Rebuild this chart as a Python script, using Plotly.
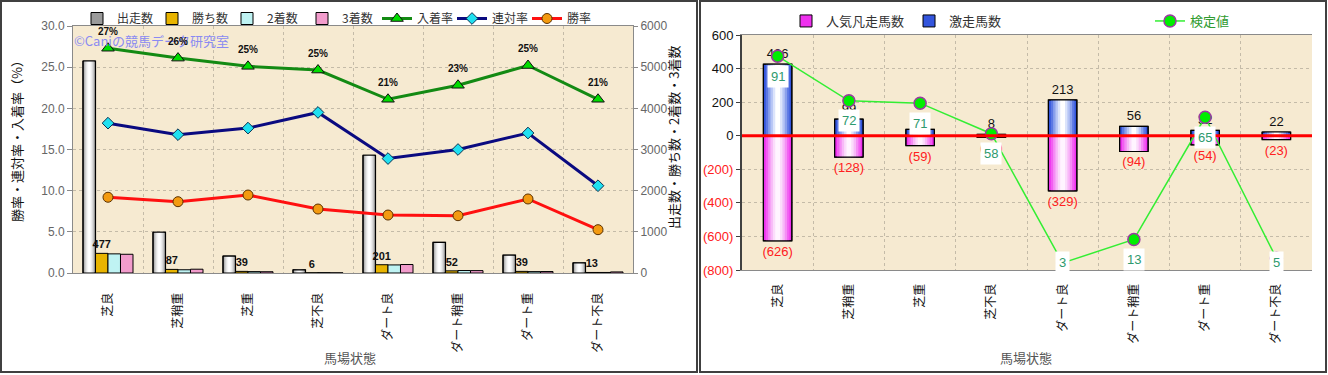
import plotly.graph_objects as go

# ---------------- data ----------------
categories = ["芝良", "芝稍重", "芝重", "芝不良", "ダート良", "ダート稍重", "ダート重", "ダート不良"]

runs = [5150, 990, 412, 77, 2860, 745, 432, 245]          # 出走数
wins = [477, 87, 39, 6, 201, 52, 39, 13]                  # 勝ち数
seconds = [465, 79, 34, 9, 196, 60, 34, 13]               # 2着数
thirds = [455, 92, 31, 4, 206, 58, 36, 26]                # 3着数
place_rate = [27.3, 26.1, 25.1, 24.65, 21.1, 22.8, 25.2, 21.1]   # 入着率
quinella_rate = [18.2, 16.8, 17.6, 19.5, 13.9, 15.0, 17.0, 10.6] # 連対率
win_rate = [9.2, 8.66, 9.47, 7.77, 7.04, 6.96, 8.99, 5.26]       # 勝率

surge = [426, 99, 38, 8, 213, 56, 32, 22]                 # 激走馬数
flop = [-626, -128, -59, -10, -329, -94, -54, -23]        # 人気凡走馬数
test_value = [91, 72, 71, 58, 3, 13, 65, 5]               # 検定値

rate_ticks = [0, 5, 10, 15, 20, 25, 30]
count_ticks = [0, 1000, 2000, 3000, 4000, 5000, 6000]
right_ticks = [-800, -600, -400, -200, 0, 200, 400, 600]

W, H = 1328, 375
JP = "Noto Sans CJK JP"
NUM = "Liberation Sans"

fig = go.Figure()


def layered_bar(x, y, center, width, colors, name, xaxis, yaxis, legend,
                rank=None, text=None, textfont=None):
    n = len(colors)
    for i, c in enumerate(colors):
        w = width * (n - i) / n
        fig.add_trace(go.Bar(
            x=x, y=y, width=w, offset=center - w / 2,
            marker=dict(color=c, line=dict(width=1 if i == 0 else 0, color="black")),
            name=name, showlegend=(i == 0), legend=legend, legendrank=rank,
            xaxis=xaxis, yaxis=yaxis, hoverinfo="skip"))
    fig.add_trace(go.Bar(
        x=x, y=y, width=width, offset=center - width / 2,
        marker=dict(color="rgba(0,0,0,0)", line=dict(width=1.2, color="black")),
        showlegend=False, xaxis=xaxis, yaxis=yaxis, hoverinfo="skip",
        text=text, textposition="outside" if text is not None else None,
        textfont=textfont, constraintext="none", cliponaxis=False))


# ---------------- left chart ----------------
bw = 0.1786
layered_bar(categories, runs, -0.268, bw,
            ["#9a9a9a", "#b8b8b8", "#d2d2d2", "#e8e8e8", "#f6f6f6", "#ffffff"],
            "出走数", "x", "y", "legend")
fig.add_trace(go.Bar(x=categories, y=wins, width=bw, offset=-0.089 - bw / 2,
                     marker=dict(color="#e8b400", line=dict(width=1, color="black")),
                     name="勝ち数", legend="legend", xaxis="x", yaxis="y",
                     text=[str(v) for v in wins], textposition="outside",
                     textfont=dict(family=NUM, size=11, color="#111"),
                     texttemplate="<b>%{text}</b>",
                     constraintext="none", cliponaxis=False, hoverinfo="skip"))
fig.add_trace(go.Bar(x=categories, y=seconds, width=bw, offset=0.089 - bw / 2,
                     marker=dict(color="#bff3f3", line=dict(width=1, color="black")),
                     name="2着数", legend="legend", xaxis="x", yaxis="y", hoverinfo="skip"))
fig.add_trace(go.Bar(x=categories, y=thirds, width=bw, offset=0.268 - bw / 2,
                     marker=dict(color="#f29ccc", line=dict(width=1, color="black")),
                     name="3着数", legend="legend", xaxis="x", yaxis="y", hoverinfo="skip"))

fig.add_trace(go.Scatter(x=categories, y=place_rate, mode="lines+markers",
                         name="入着率", legend="legend", xaxis="x", yaxis="y2",
                         line=dict(color="#138a13", width=3),
                         marker=dict(symbol="triangle-up", size=11, color="#00dd00",
                                     line=dict(color="#111", width=1)),
                         cliponaxis=False, hoverinfo="skip"))
fig.add_trace(go.Scatter(x=categories, y=quinella_rate, mode="lines+markers",
                         name="連対率", legend="legend", xaxis="x", yaxis="y2",
                         line=dict(color="#0a0a80", width=3),
                         marker=dict(symbol="diamond", size=9, color="#20e0f0",
                                     line=dict(color="#0a3050", width=1)),
                         hoverinfo="skip"))
fig.add_trace(go.Scatter(x=categories, y=win_rate, mode="lines+markers",
                         name="勝率", legend="legend", xaxis="x", yaxis="y2",
                         line=dict(color="#ff1010", width=3),
                         marker=dict(symbol="circle", size=10, color="#f39a10",
                                     line=dict(color="#5a3000", width=1)),
                         hoverinfo="skip"))

# ---------------- right chart ----------------
rb = 0.4
layered_bar(categories, flop, 0.0, rb,
            ["#ee30ee", "#f25ef2", "#f58df5", "#f8b9f8", "#fbdcfb", "#fff4ff"],
            "人気凡走馬数", "x2", "y3", "legend2", rank=1,
            text=[f"({abs(v)})" for v in flop],
            textfont=dict(family=NUM, size=13, color="#ff2020"))
layered_bar(categories, surge, 0.0, rb,
            ["#3355dd", "#5c78e4", "#8aa0ec", "#b6c5f5", "#dce4fb", "#ffffff"],
            "激走馬数", "x2", "y3", "legend2", rank=2,
            text=[str(v) for v in surge],
            textfont=dict(family=NUM, size=13, color="#111"))

fig.add_trace(go.Scatter(x=categories, y=test_value, mode="lines+markers",
                         name="検定値", legend="legend3", xaxis="x2", yaxis="y4",
                         line=dict(color="#33ee33", width=1.5),
                         marker=dict(symbol="circle", size=12, color="#00ee00",
                                     line=dict(color="#9a3aa0", width=1.5)),
                         cliponaxis=False, hoverinfo="skip"))

# ---------------- layout ----------------
grid_col = "#c4bba8"
xl = [73 / W, 633 / W]
yl = [1 - 273 / H, 1 - 26 / H]
xr = [742 / W, 1312 / W]
yr = [1 - 270 / H, 1 - 35 / H]

annotations = [
    dict(text="©Caniの競馬データ研究室", xref="paper", yref="paper",
         x=72 / W, y=1 - 40 / H, xanchor="left", yanchor="middle", showarrow=False,
         font=dict(family=JP, size=13, color="#8a8af2")),
    dict(text="勝率・連対率・入着率（%）", xref="paper", yref="paper",
         x=16 / W, y=1 - 138 / H, textangle=-90, showarrow=False,
         xanchor="center", yanchor="middle",
         font=dict(family=JP, size=13, color="#111")),
    dict(text="出走数・勝ち数・2着数・3着数", xref="paper", yref="paper",
         x=673 / W, y=1 - 138 / H, textangle=-90, showarrow=False,
         xanchor="center", yanchor="middle",
         font=dict(family=JP, size=13, color="#111")),
    dict(text="馬場状態", xref="paper", yref="paper", x=350 / W, y=1 - 357 / H,
         xanchor="center", yanchor="middle",
         showarrow=False, font=dict(family=JP, size=13, color="#555")),
    dict(text="馬場状態", xref="paper", yref="paper", x=1026 / W, y=1 - 357 / H,
         xanchor="center", yanchor="middle",
         showarrow=False, font=dict(family=JP, size=13, color="#555")),
]
for c, v in zip(categories, place_rate):
    annotations.append(dict(text=f"<b>{v:.0f}%</b>", xref="x", yref="y2", x=c, y=v,
                            yshift=17, showarrow=False,
                            font=dict(family=NUM, size=10, color="#111")))
for c, v in zip(categories, test_value):
    annotations.append(dict(text=str(v), xref="x2", yref="y4", x=c, y=max(v, 11.5),
                            yshift=-20, showarrow=False, bgcolor="white", borderpad=3,
                            font=dict(family=NUM, size=13, color="#2e9a6e")))

shapes = [
    dict(type="rect", xref="paper", yref="paper", x0=1 / W, x1=697 / W,
         y0=1 - 372 / H, y1=1 - 1 / H, line=dict(color="#404040", width=2)),
    dict(type="rect", xref="paper", yref="paper", x0=700 / W, x1=1326 / W,
         y0=1 - 372 / H, y1=1 - 1 / H, line=dict(color="#404040", width=2)),
    dict(type="line", xref="x2 domain", x0=0, x1=1, yref="y3", y0=0, y1=0,
         line=dict(color="#ff0000", width=3), layer="above"),
]

fig.update_layout(
    template="none",
    width=W, height=H,
    margin=dict(l=0, r=0, t=0, b=0, pad=0),
    paper_bgcolor="white", plot_bgcolor="#f6ead1",
    font=dict(family=JP, size=12, color="#111"),
    barmode="overlay", hovermode=False,
    xaxis=dict(domain=xl, anchor="y", type="category", tickangle=-90, automargin=False,
               tickson="boundaries", showgrid=True, griddash="dot", gridcolor=grid_col,
               showline=True, linecolor="#8a8a8a", mirror=True, ticks="",
               ticklabelstandoff=14, tickfont=dict(family=JP, size=12, color="#111"),
               range=[-0.5, 7.5]),
    yaxis=dict(domain=yl, anchor="x", side="right", range=[0, 6000], automargin=False,
               tickvals=count_ticks, showgrid=True, griddash="dot", gridcolor=grid_col,
               zeroline=False, showline=True, linecolor="#8a8a8a",
               ticks="outside", ticklen=4, tickcolor="#8a8a8a",
               tickfont=dict(family=NUM, size=12, color="#666")),
    yaxis2=dict(overlaying="y", anchor="x", side="left", range=[0, 30], automargin=False,
                tickvals=rate_ticks, tickformat=".1f", ticksuffix="%",
                showgrid=False, zeroline=False, showline=True, linecolor="#8a8a8a",
                ticks="outside", ticklen=5, tickcolor="#8a8a8a",
                tickfont=dict(family=NUM, size=12, color="#666")),
    xaxis2=dict(domain=xr, anchor="y3", type="category", tickangle=-90, automargin=False,
                tickson="boundaries", showgrid=True, griddash="dot", gridcolor=grid_col,
                showline=True, linecolor="#8a8a8a", mirror=True, ticks="",
                ticklabelstandoff=8, tickfont=dict(family=JP, size=12, color="#111"),
                range=[-0.5, 7.5]),
    yaxis3=dict(domain=yr, anchor="x2", range=[-800, 600], tickvals=right_ticks,
                automargin=False,
                ticktext=[str(v) if v >= 0 else f"<span style='color:#ff2020'>({abs(v)})</span>"
                          for v in right_ticks],
                showgrid=True, griddash="dot", gridcolor=grid_col, zeroline=False,
                showline=True, linecolor="#404040", linewidth=2,
                ticks="outside", ticklen=4, tickcolor="#404040",
                tickfont=dict(family=NUM, size=13, color="#111")),
    yaxis4=dict(overlaying="y3", anchor="x2", side="right", range=[0, 100],
                automargin=False,
                showgrid=False, zeroline=False, showline=False, showticklabels=False,
                ticks=""),
    legend=dict(orientation="h", x=77 / W, y=1 - 4 / H, xanchor="left", yanchor="top",
                bgcolor="rgba(0,0,0,0)", font=dict(family=JP, size=12, color="#333"),
                traceorder="normal", entrywidth=30, entrywidthmode="pixels"),
    legend2=dict(orientation="h", x=786 / W, y=1 - 6 / H, xanchor="left", yanchor="top",
                 bgcolor="rgba(0,0,0,0)", font=dict(family=JP, size=13, color="#333")),
    legend3=dict(orientation="h", x=1150 / W, y=1 - 6 / H, xanchor="left", yanchor="top",
                 bgcolor="rgba(0,0,0,0)", font=dict(family=JP, size=13, color="#2f9b2f")),
    annotations=annotations,
    shapes=shapes,
)

fig.write_html("out.html", config={"displayModeBar": False},
               post_script="document.body.style.margin='0';")
